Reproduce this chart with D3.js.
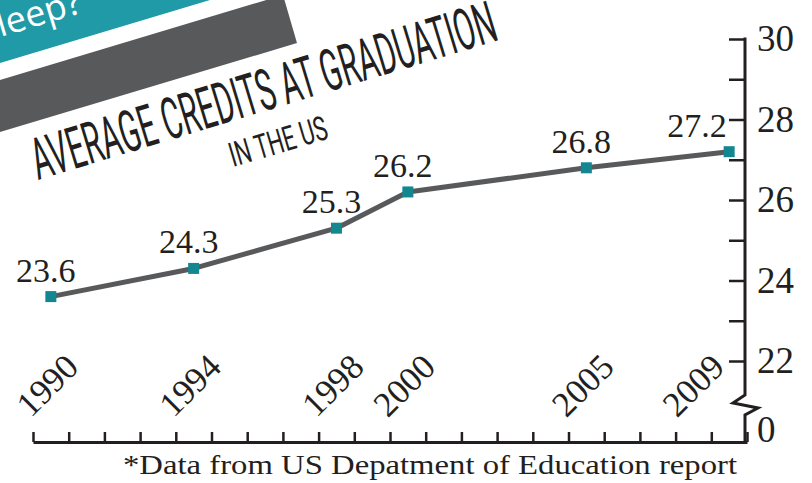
<!DOCTYPE html>
<html>
<head>
<meta charset="utf-8">
<script src="https://cdn.jsdelivr.net/npm/d3@7/dist/d3.min.js"></script>
<style>
  html, body { margin: 0; padding: 0; background: #ffffff; }
  svg { display: block; }
</style>
</head>
<body>
<script>
// ---- data ----
const years = [1990, 1994, 1998, 2000, 2005, 2009];
const credits = [23.6, 24.3, 25.3, 26.2, 26.8, 27.2];
const yTickValues = [22, 23, 24, 25, 26, 27, 28, 29, 30];
const yTickLabels = ["22", "", "24", "", "26", "", "28", "", "30"];
const breakLabel = "0";
const titleText = "AVERAGE CREDITS AT GRADUATION";
const subtitleText = "IN THE US";
const bannerText = "Sleep?";
const footnoteText = "*Data from US Depatment of Education report";

// ---- setup ----
const W = 812, H = 483;
const ink = "#231f20";
const teal = "#1f9aa6";
const markTeal = "#13878f";
const grey = "#58595b";
const serif = "'Liberation Serif', 'DejaVu Serif', serif";

const svg = d3.select("body").append("svg")
  .attr("width", W).attr("height", H);

const x = d3.scaleLinear().domain([1989.5, 2009.5]).range([33, 747]);
const y = d3.scaleLinear().domain([22, 30]).range([361, 39]);
const baseY = 442;
const axisX = 745;

// ---- decorative banners ----
svg.append("path")
  .attr("d", "M0,0 L210,0 L0,63 Z")
  .attr("fill", teal);
svg.append("path")
  .attr("d", "M0,80 L283,-5 L297,43 L0,132 Z")
  .attr("fill", grey);
svg.append("text")
  .attr("transform", "translate(84,12) rotate(-16.7)")
  .attr("text-anchor", "end")
  .attr("font-family", "'Open Sans', sans-serif")
  .attr("font-size", 36)
  .attr("fill", "#ffffff")
  .text(bannerText);

// ---- titles ----
svg.append("text")
  .attr("transform", "translate(38,180) rotate(-16.9)")
  .attr("font-family", "Roboto, sans-serif")
  .attr("font-weight", 400)
  .attr("font-size", 58)
  .attr("fill", ink)
  .attr("textLength", 483)
  .attr("lengthAdjust", "spacingAndGlyphs")
  .text(titleText);
svg.append("text")
  .attr("transform", "translate(233,167) rotate(-16.5)")
  .attr("font-family", "Roboto, sans-serif")
  .attr("font-weight", 400)
  .attr("font-size", 34)
  .attr("fill", ink)
  .attr("textLength", 101)
  .attr("lengthAdjust", "spacingAndGlyphs")
  .text(subtitleText);

// ---- x axis ----
const xTicks = d3.range(0, 21).map(i => 1989.5 + i);
const xAxis = svg.append("g")
  .attr("transform", `translate(0,${baseY})`)
  .call(d3.axisBottom(x).tickValues(xTicks).tickSizeInner(-10).tickSizeOuter(0).tickFormat(""));
xAxis.select(".domain").attr("stroke", ink).attr("stroke-width", 3);
xAxis.selectAll(".tick line").attr("stroke", ink).attr("stroke-width", 2.5);

// ---- y axis ----
const yAxis = svg.append("g")
  .attr("transform", `translate(${axisX},0)`)
  .call(d3.axisRight(y).tickValues(yTickValues).tickSizeInner(-16).tickSizeOuter(0)
    .tickPadding(12).tickFormat((d, i) => yTickLabels[i]));
yAxis.select(".domain").remove();
yAxis.selectAll(".tick line").attr("stroke", ink).attr("stroke-width", 2.5);
yAxis.selectAll(".tick text")
  .attr("font-family", serif).attr("font-size", 37).attr("fill", ink);

// axis spine with break
const spine = d3.path();
spine.moveTo(axisX, y(30) - 1.5);
spine.lineTo(axisX, 395);
spine.lineTo(axisX - 12, 403);
spine.lineTo(axisX + 13, 408);
spine.lineTo(axisX, 415);
spine.lineTo(axisX, baseY + 1.5);
svg.append("path").attr("d", spine.toString())
  .attr("fill", "none").attr("stroke", ink).attr("stroke-width", 3);

svg.append("text")
  .attr("x", axisX + 12).attr("y", baseY)
  .attr("font-family", serif).attr("font-size", 37).attr("fill", ink)
  .text(breakLabel);

// ---- year labels ----
svg.append("g").selectAll("text").data(years).join("text")
  .attr("transform", d => `translate(${Math.min(x(d) - 4, axisX - 52)},385) rotate(-45)`)
  .attr("text-anchor", "middle")
  .attr("dy", "0.35em")
  .attr("font-family", serif).attr("font-size", 35).attr("fill", ink)
  .text(d => d);

// ---- line ----
const pts = years.map((yr, i) => ({ yr, v: credits[i] }));
svg.append("path")
  .datum(pts)
  .attr("d", d3.line().x(d => x(d.yr)).y(d => y(d.v)))
  .attr("fill", "none").attr("stroke", grey).attr("stroke-width", 5)
  .attr("stroke-linecap", "round").attr("stroke-linejoin", "round");

svg.append("g").selectAll("rect").data(pts).join("rect")
  .attr("x", d => x(d.yr) - 5.5).attr("y", d => y(d.v) - 5.5)
  .attr("width", 11).attr("height", 11)
  .attr("fill", markTeal);

// ---- value labels ----
svg.append("g").selectAll("text").data(pts).join("text")
  .attr("x", d => Math.min(x(d.yr) - 5, axisX - 48))
  .attr("y", d => y(d.v) - 15)
  .attr("text-anchor", "middle")
  .attr("font-family", serif).attr("font-size", 34).attr("fill", ink)
  .text(d => d.v.toFixed(1));

// ---- footnote ----
svg.append("text")
  .attr("x", 123).attr("y", 474)
  .attr("font-family", serif).attr("font-size", 28).attr("fill", ink)
  .attr("textLength", 614)
  .attr("lengthAdjust", "spacingAndGlyphs")
  .text(footnoteText);
</script>
</body>
</html>
